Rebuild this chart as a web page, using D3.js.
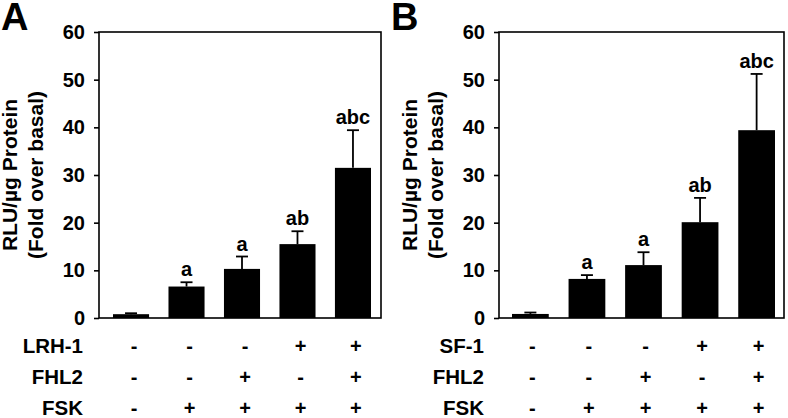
<!DOCTYPE html>
<html><head><meta charset="utf-8">
<script src="https://cdn.jsdelivr.net/npm/d3@7"></script>
<style>
html,body{margin:0;padding:0;background:#fff;}
svg text{font-family:"Liberation Sans",Arial,sans-serif;font-weight:bold;fill:#000;}
</style></head>
<body>
<svg id="chart" width="788" height="418"></svg>
<script>
const groups = ["g1","g2","g3","g4","g5"];
const yTicks = [0,10,20,30,40,50,60];
const meansA = [0.8, 6.6, 10.3, 15.5, 31.5];
const errA   = [0.2, 0.9, 2.6, 2.7, 7.9];
const lettersA = ["", "a", "a", "ab", "abc"];
const meansB = [0.85, 8.2, 11.1, 20.1, 39.4];
const errB   = [0.3, 0.8, 2.7, 5.1, 11.8];
const lettersB = ["", "a", "a", "ab", "abc"];
const rowLabelsA = ["LRH-1", "FHL2", "FSK"];
const rowLabelsB = ["SF-1", "FHL2", "FSK"];
const rowsA = [["-","-","-","+","+"],["-","-","+","-","+"],["-","+","+","+","+"]];
const rowsB = [["-","-","-","+","+"],["-","-","+","-","+"],["-","+","+","+","+"]];
const yTitle = ["RLU/\u00b5g Protein", "(Fold over basal)"];

const svg = d3.select("#chart");

function panel(cfg){
  const g = svg.append("g");
  const y = d3.scaleLinear().domain([0,60]).range([318,32]);
  const x = d3.scaleBand().domain(groups).range([cfg.bx0, cfg.bx1]).paddingInner(0.35).paddingOuter(0);
  // frame
  g.append("rect").attr("x", cfg.fx0).attr("y", y(60)).attr("width", cfg.fx1 - cfg.fx0)
    .attr("height", y(0) - y(60)).attr("fill","none").attr("stroke","#000").attr("stroke-width",1.6);
  // y axis
  const ax = g.append("g").attr("transform", `translate(${cfg.fx0},0)`)
    .call(d3.axisLeft(y).tickValues(yTicks).tickSize(5).tickPadding(9).tickFormat(d3.format("d")));
  ax.select(".domain").remove();
  ax.selectAll("line").attr("stroke","#000").attr("stroke-width",1.6);
  ax.selectAll("text").style("font-size","20px").attr("font-family",null).attr("fill","#000");
  // bars
  g.selectAll(".bar").data(cfg.means).join("rect")
    .attr("x",(d,i)=>x(groups[i])).attr("width",x.bandwidth())
    .attr("y",d=>y(d)).attr("height",d=>y(0)-y(d)).attr("fill","#000");
  // error bars
  const cap = 12;
  cfg.means.forEach((m,i)=>{
    const cx = x(groups[i]) + x.bandwidth()/2;
    const top = y(m + cfg.err[i]);
    g.append("line").attr("x1",cx).attr("x2",cx).attr("y1",y(m)).attr("y2",top)
      .attr("stroke","#000").attr("stroke-width",1.8);
    g.append("line").attr("x1",cx-cap/2).attr("x2",cx+cap/2).attr("y1",top).attr("y2",top)
      .attr("stroke","#000").attr("stroke-width",1.8);
    if (cfg.letters[i]) {
      g.append("text").attr("x",cx).attr("y",top-6).attr("text-anchor","middle")
        .style("font-size","20px").text(cfg.letters[i]);
    }
  });
  // y title
  const tx = cfg.fx0;
  yTitle.forEach((t,k)=>{
    g.append("text").attr("transform",`translate(${tx - 82 + k*26},${(y(0)+y(60))/2}) rotate(-90)`)
      .attr("text-anchor","middle").style("font-size","21px").text(t);
  });
  // panel letter
  g.append("text").attr("x",cfg.letterX).attr("y",30).style("font-size","38px").text(cfg.letter);
  // table
  const rowY = [353, 383.5, 414.5];
  cfg.rowLabels.forEach((lab,r)=>{
    g.append("text").attr("x",cfg.labelX).attr("y",rowY[r]).attr("text-anchor","end")
      .style("font-size","20.5px").text(lab);
    cfg.rows[r].forEach((s,i)=>{
      g.append("text").attr("x", x(groups[i]) + x.bandwidth()/2 + cfg.signShift).attr("y",rowY[r])
        .attr("text-anchor","middle").style("font-size","20px").text(s);
    });
  });
}

panel({fx0:99, fx1:381, bx0:113, bx1:371, means:meansA, err:errA, letters:lettersA,
  letter:"A", letterX:1, labelX:83, rowLabels:rowLabelsA, rows:rowsA, signShift:3});
panel({fx0:499, fx1:784, bx0:512, bx1:775, means:meansB, err:errB, letters:lettersB,
  letter:"B", letterX:391, labelX:484, rowLabels:rowLabelsB, rows:rowsB, signShift:2});
</script>
</body></html>
